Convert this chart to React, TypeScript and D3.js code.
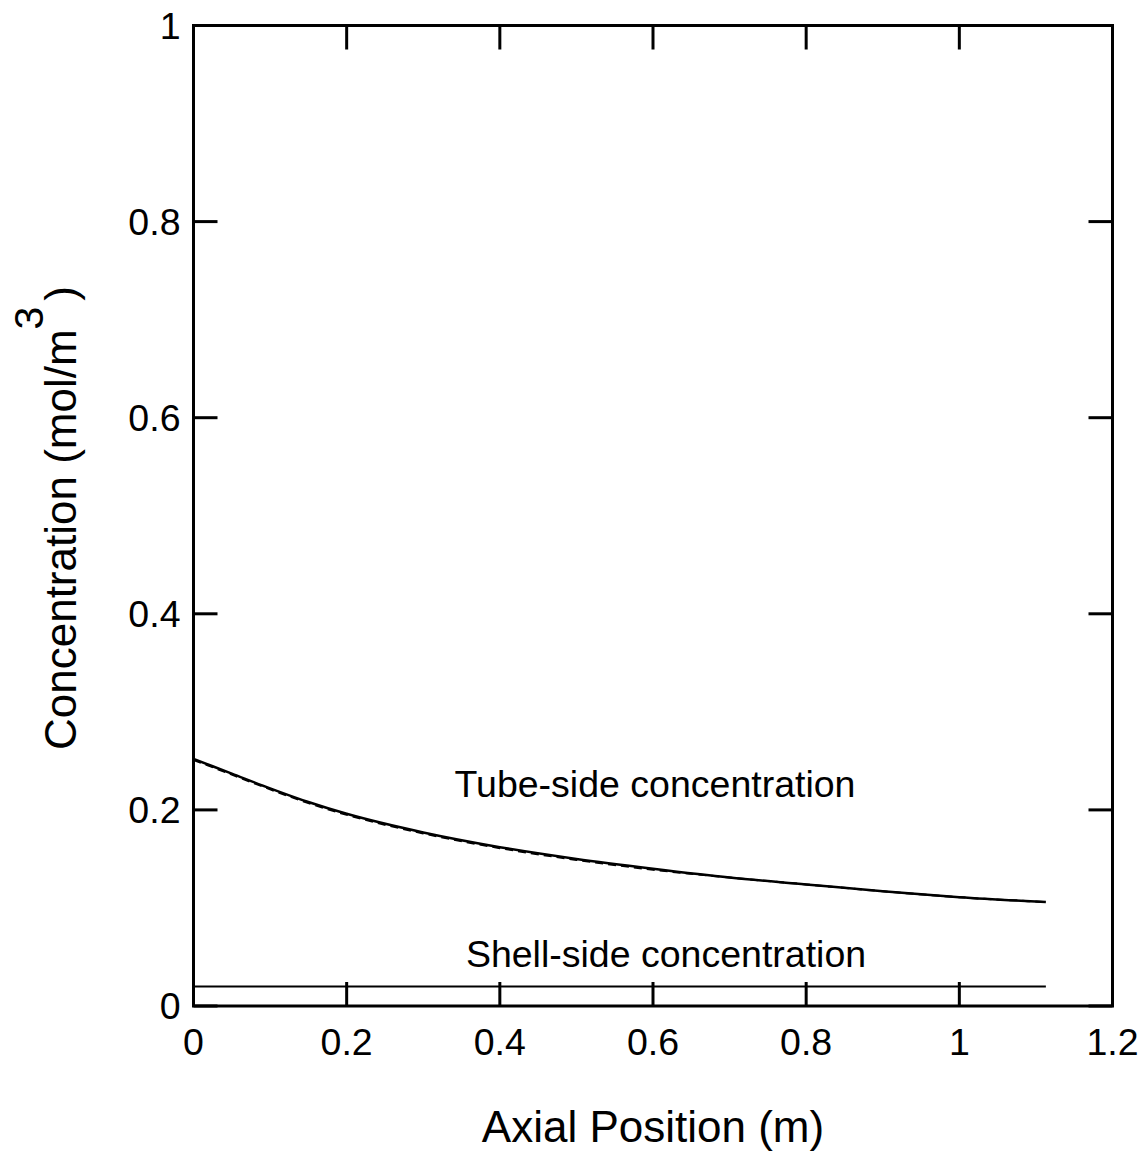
import React from 'react';
import * as d3 from 'd3';

// axial position (m)
const positions = [0, 0.05, 0.1, 0.15, 0.2, 0.3, 0.4, 0.5, 0.6, 0.7, 0.8, 0.9, 1.0, 1.113];
// tube-side concentration, model (solid) and second curve (dashed) nearly identical
const tubeSolid = [0.252, 0.237, 0.222, 0.208, 0.196, 0.177, 0.162, 0.15, 0.14, 0.131, 0.124, 0.117, 0.111, 0.106];
const tubeDashed = [0.251, 0.236, 0.221, 0.207, 0.195, 0.176, 0.161, 0.149, 0.139, 0.131, 0.124, 0.117, 0.111, 0.106];
// shell-side concentration
const shell = [0.02, 0.02, 0.02, 0.02, 0.02, 0.02, 0.02, 0.02, 0.02, 0.02, 0.02, 0.02, 0.02, 0.02];

const xTicks = [0, 0.2, 0.4, 0.6, 0.8, 1, 1.2];
const yTicks = [0, 0.2, 0.4, 0.6, 0.8, 1];

const W = 1146;
const H = 1155;
const margin = { left: 193.5, right: W - 1112.5, top: 25.5, bottom: H - 1006 };

const font = '"Liberation Sans", Arial, sans-serif';

const App = () => {
  const x = d3.scaleLinear().domain([0, 1.2]).range([margin.left, W - margin.right]);
  const y = d3.scaleLinear().domain([0, 1]).range([H - margin.bottom, margin.top]);

  const line = d3
    .line<number>()
    .x((d, i) => x(positions[i]))
    .y((d) => y(d))
    .curve(d3.curveMonotoneX);

  const tick = 24;
  const x0 = x(0), x1 = x(1.2), y0 = y(0), y1 = y(1);

  return (
    <svg width={W} height={H} style={{ position: 'absolute', left: 0, top: 0, background: '#fff' }} fontFamily={font}>
      {/* ticks, inside on all sides */}
      {xTicks.map((t) => (
        <g key={'xt' + t}>
          <line x1={x(t)} x2={x(t)} y1={y0} y2={y0 - tick} stroke="#000" strokeWidth={3} />
          <line x1={x(t)} x2={x(t)} y1={y1} y2={y1 + tick} stroke="#000" strokeWidth={3} />
          <text x={x(t)} y={y0 + 49} textAnchor="middle" fontSize={37.5}>{t}</text>
        </g>
      ))}
      {yTicks.map((t) => (
        <g key={'yt' + t}>
          <line x1={x0} x2={x0 + tick} y1={y(t)} y2={y(t)} stroke="#000" strokeWidth={3} />
          <line x1={x1} x2={x1 - tick} y1={y(t)} y2={y(t)} stroke="#000" strokeWidth={3} />
          <text x={x0 - 13} y={y(t) + 13} textAnchor="end" fontSize={37.5}>{t}</text>
        </g>
      ))}

      {/* data */}
      <path d={line(shell) || ''} fill="none" stroke="#000" strokeWidth={2} />
      <path d={line(tubeSolid) || ''} fill="none" stroke="#000" strokeWidth={2.5} />
      <path d={line(tubeDashed) || ''} fill="none" stroke="#000" strokeWidth={2} strokeDasharray="8,5" />

      {/* frame */}
      <rect x={x0} y={y1} width={x1 - x0} height={y0 - y1} fill="none" stroke="#000" strokeWidth={3} />

      <text x={655} y={797} textAnchor="middle" fontSize={37.5}>Tube-side concentration</text>
      <text x={666} y={967} textAnchor="middle" fontSize={37.5}>Shell-side concentration</text>

      <text x={653} y={1142} textAnchor="middle" fontSize={44}>Axial Position (m)</text>
      <text transform="translate(76,518) rotate(-90)" textAnchor="middle" fontSize={44}>
        Concentration (mol/m
        <tspan dy={-33} fontSize={41}>3</tspan>
        <tspan dy={33} dx={6}>)</tspan>
      </text>
    </svg>
  );
};

export default App;
